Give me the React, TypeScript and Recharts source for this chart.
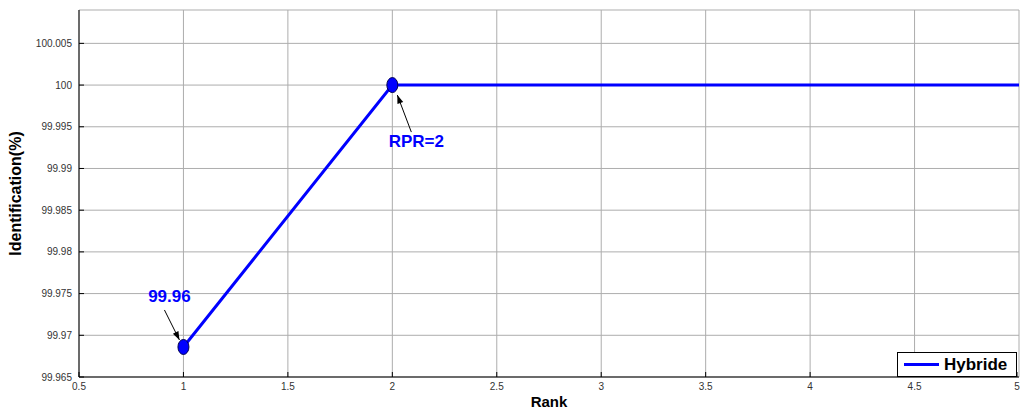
import React from "react";
import {
  LineChart,
  Line,
  XAxis,
  YAxis,
  CartesianGrid,
  Legend,
} from "recharts";

const ranks = [1, 2, 3, 4, 5];
const hybride = [99.9686, 100, 100, 100, 100];
const xTicks = [0.5, 1, 1.5, 2, 2.5, 3, 3.5, 4, 4.5, 5];
const yTicks = [99.965, 99.97, 99.975, 99.98, 99.985, 99.99, 99.995, 100, 100.005];
const annotations = ["99.96", "RPR=2"];

const data = ranks.map((r, i) => ({ rank: r, hybride: hybride[i] }));

const FONT = "Arial, 'Liberation Sans', Helvetica, sans-serif";
const BLUE = "#0000ff";

// MATLAB-style inward tick marks with labels
const BottomTick = (props: any) => {
  const { x, y, payload } = props;
  return (
    <g>
      <line x1={x} y1={y} x2={x} y2={y - 5} stroke="#000" />
      <text x={x} y={y + 13} textAnchor="middle" fontSize={10} fill="#333" fontFamily={FONT}>
        {payload.value}
      </text>
    </g>
  );
};

const LeftTick = (props: any) => {
  const { x, y, payload } = props;
  return (
    <g>
      <line x1={x} y1={y} x2={x + 5} y2={y} stroke="#000" />
      <text x={x - 7} y={y + 3.5} textAnchor="end" fontSize={10} fill="#333" fontFamily={FONT}>
        {payload.value}
      </text>
    </g>
  );
};

const TopTick = (props: any) => {
  const { x, y } = props;
  return <line x1={x} y1={y} x2={x} y2={y + 5} stroke="#000" />;
};

const RightTick = (props: any) => {
  const { x, y } = props;
  return <line x1={x} y1={y} x2={x - 5} y2={y} stroke="#000" />;
};

const Arrow = ({ x1, y1, x2, y2 }: { x1: number; y1: number; x2: number; y2: number }) => {
  const a = Math.atan2(y2 - y1, x2 - x1);
  const len = 9;
  const w = 0.35;
  const p1 = [x2 - len * Math.cos(a - w), y2 - len * Math.sin(a - w)];
  const p2 = [x2 - len * Math.cos(a + w), y2 - len * Math.sin(a + w)];
  return (
    <g>
      <line x1={x1} y1={y1} x2={x2} y2={y2} stroke="#000" strokeWidth={1} />
      <polygon points={`${x2},${y2} ${p1[0]},${p1[1]} ${p2[0]},${p2[1]}`} fill="#000" />
    </g>
  );
};

// markers and callouts on the first two points
const renderDot = (props: any) => {
  const { cx, cy, index } = props;
  if (index > 1) return <g key={`d-${index}`} />;
  const marker = (
    <ellipse cx={cx} cy={cy} rx={5.5} ry={7.5} fill={BLUE} stroke="#000050" strokeWidth={1} />
  );
  if (index === 0) {
    return (
      <g key={`d-${index}`}>
        {marker}
        <Arrow x1={cx - 19} y1={cy - 37} x2={cx - 4} y2={cy - 7} />
        <text x={cx - 14} y={cy - 45} textAnchor="middle" fontSize={17} fontWeight="bold" fill={BLUE} fontFamily={FONT}>
          {annotations[0]}
        </text>
      </g>
    );
  }
  return (
    <g key={`d-${index}`}>
      {marker}
      <Arrow x1={cx + 19} y1={cy + 47} x2={cx + 5} y2={cy + 10} />
      <text x={cx + 24} y={cy + 62} textAnchor="middle" fontSize={17} fontWeight="bold" fill={BLUE} fontFamily={FONT}>
        {annotations[1]}
      </text>
    </g>
  );
};

const LegendBox = () => (
  <div
    style={{
      width: 118,
      height: 23,
      border: "1px solid #000",
      background: "#fff",
      display: "flex",
      alignItems: "center",
      fontFamily: FONT,
      boxSizing: "content-box",
    }}
  >
    <div style={{ width: 35, height: 3, background: BLUE, marginLeft: 6, marginRight: 5 }} />
    <span style={{ fontSize: 17, fontWeight: "bold", color: "#000" }}>Hybride</span>
  </div>
);

export default function App() {
  return (
    <div style={{ position: "absolute", left: 0, top: 0, background: "#fff" }}>
      <LineChart
        width={1021}
        height={410}
        data={data}
        margin={{ top: 10, right: 2, left: 0, bottom: 0 }}
      >
        <CartesianGrid stroke="#adadad" strokeWidth={1} />
        <XAxis
          dataKey="rank"
          type="number"
          domain={[0.5, 5]}
          ticks={xTicks}
          height={33}
          tickSize={0}
          tickMargin={0}
          tick={<BottomTick />}
          axisLine={{ stroke: "#000" }}
          label={{
            value: "Rank",
            position: "insideBottom",
            offset: 3,
            style: { fontSize: 15, fontWeight: "bold", fill: "#000", fontFamily: FONT },
          }}
        />
        <XAxis
          xAxisId="top"
          dataKey="rank"
          type="number"
          orientation="top"
          domain={[0.5, 5]}
          ticks={xTicks}
          height={0}
          tickSize={0}
          tickMargin={0}
          tick={<TopTick />}
          axisLine={{ stroke: "#000" }}
        />
        <YAxis
          type="number"
          domain={[99.965, 100.009]}
          ticks={yTicks}
          width={79}
          tickSize={0}
          tickMargin={0}
          tick={<LeftTick />}
          axisLine={{ stroke: "#000" }}
          allowDataOverflow
          label={{
            value: "Identification(%)",
            angle: -90,
            position: "insideLeft",
            offset: 15,
            style: { fontSize: 16, fontWeight: "bold", fill: "#000", fontFamily: FONT, textAnchor: "middle" },
          }}
        />
        <YAxis
          yAxisId="right"
          type="number"
          orientation="right"
          domain={[99.965, 100.009]}
          ticks={yTicks}
          width={0}
          tickSize={0}
          tickMargin={0}
          tick={<RightTick />}
          axisLine={{ stroke: "#000" }}
          allowDataOverflow
        />
        <Legend
          layout="horizontal"
          verticalAlign="middle"
          align="center"
          wrapperStyle={{ position: "absolute", left: 897, top: 352, width: 120, height: 25 }}
          content={() => <LegendBox />}
        />
        <Line
          type="linear"
          dataKey="hybride"
          name="Hybride"
          stroke={BLUE}
          strokeWidth={3}
          dot={renderDot}
          activeDot={false}
          isAnimationActive={false}
        />
      </LineChart>
    </div>
  );
}
